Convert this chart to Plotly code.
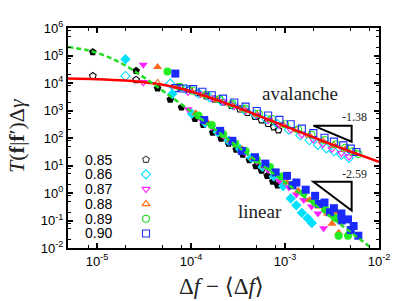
import plotly.graph_objects as go

# ---------------- data ----------------
labels = ["0.85", "0.86", "0.87", "0.88", "0.89", "0.90"]
colors = ["#000000", "#00e0ff", "#ff22ff", "#ff6a1a", "#22ee22", "#1a2aff"]
legend_colors = ["#444444", "#00e0ff", "#ff22ff", "#ff6a1a", "#22dd22", "#2233ee"]
symbols = ["pentagon", "diamond", "triangle-down", "triangle-up", "circle", "square"]

# linear response (filled markers)
lin_085_x = [9.0e-6, 2.6e-5, 4.4e-5, 6.0e-5, 7.9e-5, 1.1e-4, 1.35e-4, 1.70e-4, 2.09e-4, 2.51e-4, 3.02e-4, 3.55e-4, 4.17e-4, 4.9e-4, 5.62e-4, 6.46e-4, 7.41e-4, 8.32e-4]
lin_085_y = [1.35e5, 2.8e4, 6.5e3, 2.5e3, 1.3e3, 500, 300, 158, 95, 63, 38, 25, 15.8, 9.5, 6.6, 4.2, 2.6, 1.9]
lin_086_x = [2.0e-5, 6.3e-5, 1.02e-4, 1.41e-4, 1.91e-4, 2.51e-4, 3.31e-4, 4.37e-4, 5.75e-4, 7.59e-4, 9.55e-4, 1.15e-3, 1.32e-3, 1.51e-3, 1.74e-3, 1.93e-3]
lin_086_y = [7.3e4, 4.0e3, 760, 355, 166, 79, 40, 19, 8.9, 4.0, 1.8, 0.63, 0.355, 0.19, 0.12, 0.081]
lin_087_x = [3.1e-5, 9.3e-5, 1.26e-4, 1.66e-4, 2.19e-4, 2.88e-4, 3.80e-4, 5.0e-4, 6.61e-4, 8.71e-4, 1.10e-3, 1.32e-3, 1.58e-3, 1.91e-3, 2.24e-3, 2.57e-3]
lin_087_y = [4.6e4, 1.12e3, 500, 250, 120, 60, 29, 14, 6.9, 2.8, 1.6, 0.89, 0.56, 0.32, 0.18, 0.052]
lin_088_x = [4.4e-5, 1.12e-4, 1.51e-4, 2.0e-4, 2.63e-4, 3.47e-4, 4.57e-4, 6.03e-4, 7.94e-4, 1.05e-3, 1.38e-3, 1.82e-3, 2.29e-3, 2.82e-3, 3.16e-3, 3.55e-3, 3.72e-3]
lin_088_y = [3.8e4, 790, 355, 166, 83, 40, 19, 9.3, 4.8, 2.4, 1.2, 0.56, 0.32, 0.18, 0.076, 0.20, 0.036]
lin_089_x = [5.6e-5, 1.2e-4, 1.66e-4, 2.19e-4, 2.95e-4, 3.80e-4, 5.0e-4, 6.92e-4, 9.12e-4, 1.20e-3, 1.58e-3, 2.09e-3, 2.69e-3, 3.39e-3, 3.72e-3, 4.68e-3]
lin_089_y = [2.6e4, 660, 295, 141, 63, 34, 16.6, 8.9, 4.0, 2.0, 1.0, 0.45, 0.25, 0.126, 0.028, 0.028]
lin_090_x = [6.8e-5, 1.38e-4, 2.04e-4, 2.75e-4, 3.47e-4, 4.79e-4, 6.17e-4, 7.94e-4, 1.05e-3, 1.2e-3, 1.32e-3, 1.66e-3, 2.09e-3, 2.29e-3, 2.63e-3, 3.0e-3, 3.31e-3, 3.98e-3, 4.0e-3, 4.68e-3, 5.0e-3, 5.37e-3, 6.03e-3]
lin_090_y = [2.2e4, 450, 182, 79, 34, 20, 11.7, 5.6, 4.2, 1.9, 2.4, 1.32, 0.79, 0.4, 0.45, 0.2, 0.28, 0.18, 0.1, 0.11, 0.045, 0.063, 0.028]

# avalanche response (open markers)
ava_085_x = [9.0e-6, 2.6e-5, 7.6e-5, 9.5e-5, 1.17e-4, 1.45e-4, 1.78e-4, 2.19e-4, 2.69e-4, 3.31e-4, 3.98e-4, 4.79e-4, 5.62e-4, 6.61e-4, 7.59e-4, 8.51e-4]
ava_085_y = [1.8e4, 1.3e4, 6.9e3, 5.8e3, 4.4e3, 3.3e3, 2.6e3, 2.0e3, 1.5e3, 1.12e3, 830, 600, 450, 330, 250, 195]
ava_086_x = [2.0e-5, 6.0e-5, 8.9e-5, 1.2e-4, 1.58e-4, 2.09e-4, 2.75e-4, 3.63e-4, 4.79e-4, 6.31e-4, 8.32e-4, 1.10e-3, 1.45e-3, 1.82e-3, 2.24e-3, 2.75e-3, 3.31e-3, 3.98e-3, 4.79e-3]
ava_086_y = [1.8e4, 9.5e3, 5.8e3, 4.2e3, 3.0e3, 2.24e3, 1.58e3, 1.1e3, 720, 480, 316, 200, 126, 83, 56, 42, 33, 25, 19]
ava_087_x = [3.1e-5, 9.3e-5, 1.26e-4, 1.66e-4, 2.19e-4, 2.88e-4, 3.80e-4, 5.0e-4, 6.61e-4, 8.71e-4, 1.15e-3, 1.51e-3, 2.0e-3, 2.51e-3, 3.16e-3, 3.98e-3, 4.79e-3]
ava_087_y = [1.05e4, 4.7e3, 4.0e3, 2.9e3, 2.1e3, 1.45e3, 1.0e3, 680, 450, 300, 200, 132, 87, 60, 40, 28, 21]
ava_088_x = [4.4e-5, 7.1e-5, 1.0e-4, 1.38e-4, 1.91e-4, 2.63e-4, 3.63e-4, 5.0e-4, 6.92e-4, 9.55e-4, 1.32e-3, 1.82e-3, 2.51e-3, 3.31e-3, 4.37e-3, 5.50e-3]
ava_088_y = [1.0e4, 7.2e3, 5.2e3, 3.7e3, 2.5e3, 1.74e3, 1.12e3, 720, 470, 300, 195, 123, 79, 55, 38, 27.5]
ava_089_x = [7.6e-5, 1.05e-4, 1.45e-4, 2.0e-4, 2.75e-4, 3.80e-4, 5.25e-4, 7.24e-4, 1.0e-3, 1.38e-3, 1.91e-3, 2.63e-3, 3.47e-3, 4.37e-3, 5.25e-3, 6.03e-3]
ava_089_y = [7.2e3, 5.2e3, 3.7e3, 2.6e3, 1.74e3, 1.15e3, 760, 490, 316, 204, 132, 85, 59, 44, 33, 26]
ava_090_x = [6.8e-5, 8.3e-5, 1.05e-4, 1.32e-4, 1.66e-4, 2.19e-4, 2.88e-4, 3.80e-4, 5.0e-4, 6.61e-4, 8.71e-4, 1.15e-3, 1.51e-3, 2.0e-3, 2.63e-3, 3.31e-3, 4.17e-3, 5.01e-3, 5.75e-3]
ava_090_y = [6.5e3, 6.3e3, 6.0e3, 4.8e3, 3.6e3, 2.7e3, 1.95e3, 1.38e3, 955, 660, 457, 316, 219, 151, 102, 74, 54, 41, 31]

# fit curves
red_x = [4.9e-6, 1.0e-5, 2.0e-5, 3.16e-5, 5.0e-5, 7.9e-5, 1.26e-4, 2.0e-4, 3.98e-4, 1.0e-3, 2.51e-3, 5.0e-3, 1.0e-2]
red_y = [1.45e4, 1.38e4, 1.23e4, 1.07e4, 8.7e3, 6.2e3, 3.8e3, 2.24e3, 930, 270, 78, 32, 13.5]
green_x = [4.9e-6, 7.9e-6, 1.26e-5, 2.0e-5, 3.16e-5, 5.0e-5, 7.9e-5, 1.26e-4, 2.51e-4, 5.0e-4, 1.0e-3, 2.0e-3, 3.98e-3, 8.3e-3]
green_y = [2.04e5, 1.55e5, 9.3e4, 4.3e4, 1.58e4, 5.2e3, 1.66e3, 513, 87, 14.5, 2.45, 0.41, 0.068, 0.01]

x_ticks = [1e-5, 1e-4, 1e-3, 1e-2]
x_ticktext = ["10<sup>-5</sup>", "10<sup>-4</sup>", "10<sup>-3</sup>", "10<sup>-2</sup>"]
y_ticks = [1e-2, 1e-1, 1e0, 1e1, 1e2, 1e3, 1e4, 1e5, 1e6]
y_ticktext = ["10<sup>-2</sup>", "10<sup>-1</sup>", "10<sup>0</sup>", "10<sup>1</sup>", "10<sup>2</sup>",
              "10<sup>3</sup>", "10<sup>4</sup>", "10<sup>5</sup>", "10<sup>6</sup>"]
x_minor = [8e-6, 2e-5, 5e-5, 8e-5, 2e-4, 5e-4, 8e-4, 2e-3, 5e-3, 8e-3]
y_minor = [m * 10.0 ** e for e in range(-2, 6) for m in (2, 5, 8)]

lin_x = [lin_085_x, lin_086_x, lin_087_x, lin_088_x, lin_089_x, lin_090_x]
lin_y = [lin_085_y, lin_086_y, lin_087_y, lin_088_y, lin_089_y, lin_090_y]
ava_x = [ava_085_x, ava_086_x, ava_087_x, ava_088_x, ava_089_x, ava_090_x]
ava_y = [ava_085_y, ava_086_y, ava_087_y, ava_088_y, ava_089_y, ava_090_y]

fig = go.Figure()

for i in range(6):
    fig.add_trace(go.Scatter(
        x=ava_x[i], y=ava_y[i], mode="markers", showlegend=False,
        marker=dict(symbol=symbols[i] + "-open", size=7, color=colors[i],
                    line=dict(width=1.1, color=colors[i]))))
for i in range(6):
    fig.add_trace(go.Scatter(
        x=lin_x[i], y=lin_y[i], mode="markers", showlegend=False,
        marker=dict(symbol=symbols[i], size=8, color=colors[i], line=dict(width=0))))

fig.add_trace(go.Scatter(x=red_x, y=red_y, mode="lines", showlegend=False,
                         line=dict(color="#ff0000", width=2.5, shape="spline")))
fig.add_trace(go.Scatter(x=green_x, y=green_y, mode="lines", showlegend=False,
                         line=dict(color="#22dd22", width=2.5, dash="5px,3px", shape="spline")))

# legend keys (gnuplot style: label left, symbol right) on an overlay axis
key_y = [0.402 - 0.0672 * i for i in range(6)]
fig.add_trace(go.Scatter(
    x=[0.2508] * 6, y=key_y, xaxis="x2", yaxis="y2", mode="markers", showlegend=False,
    marker=dict(symbol=[s + "-open" for s in symbols], size=7, color=legend_colors,
                line=dict(width=1.1, color=legend_colors))))

annotations = []
for i, lab in enumerate(labels):
    annotations.append(dict(x=0.147, y=key_y[i], xref="paper", yref="paper", text=lab,
                            showarrow=False, xanchor="right", yanchor="middle",
                            font=dict(family="Liberation Sans, Arial", size=14, color="black")))

serif = "Liberation Serif, Times New Roman, DejaVu Serif"
annotations += [
    dict(x=0.746, y=0.703, xref="paper", yref="paper", text="avalanche", showarrow=False,
         font=dict(family=serif, size=19, color="#222"), xanchor="center", yanchor="middle"),
    dict(x=0.617, y=0.166, xref="paper", yref="paper", text="linear", showarrow=False,
         font=dict(family=serif, size=19, color="#222"), xanchor="center", yanchor="middle"),
    dict(x=0.921, y=0.594, xref="paper", yref="paper", text="-1.38", showarrow=False,
         font=dict(family=serif, size=12, color="#222"), xanchor="center", yanchor="middle"),
    dict(x=0.921, y=0.336, xref="paper", yref="paper", text="-2.59", showarrow=False,
         font=dict(family=serif, size=12, color="#222"), xanchor="center", yanchor="middle"),
    dict(x=0.495, y=-0.175, xref="paper", yref="paper",
         text="Δ<i>f</i> − ⟨Δ<i>f</i>⟩", showarrow=False,
         font=dict(family=serif, size=23, color="#222"), xanchor="center", yanchor="middle"),
    dict(x=-0.166, y=0.511, xref="paper", yref="paper", textangle=-90,
         text="<i>T</i>(<b>f</b>|<b>f</b>′)Δ<i>γ</i>", showarrow=False,
         font=dict(family=serif, size=22, color="#222"), xanchor="center", yanchor="middle"),
]

shapes = [
    dict(type="path", xref="paper", yref="paper",
         path="M 0.789 0.556 L 0.912 0.556 L 0.912 0.483 Z",
         line=dict(color="black", width=2)),
    dict(type="path", xref="paper", yref="paper",
         path="M 0.789 0.301 L 0.912 0.301 L 0.912 0.170 Z",
         line=dict(color="black", width=2)),
]

axis_common = dict(
    type="log", showgrid=False, zeroline=False, showline=True, linecolor="black",
    linewidth=2, mirror="allticks", ticks="inside", ticklen=5, tickwidth=1.5,
    tickcolor="black", tickfont=dict(family="Liberation Sans, Arial", size=13, color="black"),
)

# the page body adds an 8 px offset, so the figure is sized to fill the window exactly
fig.update_layout(
    width=407, height=293,
    margin=dict(l=60, r=36, t=11, b=53),
    paper_bgcolor="white", plot_bgcolor="white",
    xaxis=dict(range=[-5.31, -2.0], tickmode="array", tickvals=x_ticks, ticktext=x_ticktext,
               minor=dict(tickmode="array", tickvals=x_minor, ticks="inside", ticklen=3,
                          tickcolor="black", tickwidth=1, showgrid=False),
               **axis_common),
    yaxis=dict(range=[-2.0, 6.0], tickmode="array", tickvals=y_ticks, ticktext=y_ticktext,
               minor=dict(tickmode="array", tickvals=y_minor, ticks="inside", ticklen=3,
                          tickcolor="black", tickwidth=1, showgrid=False),
               **axis_common),
    xaxis2=dict(overlaying="x", range=[0, 1], visible=False, anchor="y2"),
    yaxis2=dict(overlaying="y", range=[0, 1], visible=False, anchor="x2"),
    annotations=annotations,
    shapes=shapes,
    showlegend=False,
)

fig.write_html("out.html")
